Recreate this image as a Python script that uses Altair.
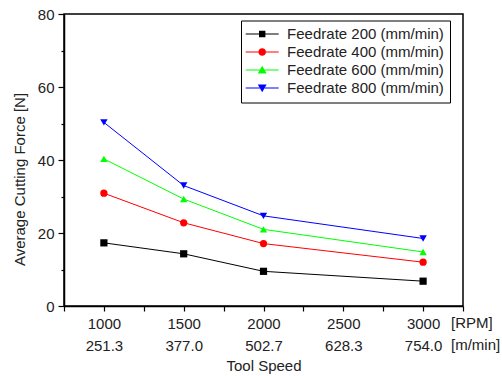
import altair as alt
import pandas as pd

# ---- data ----
rpm = [1000, 1500, 2000, 3000]
series = [
    "Feedrate 200 (mm/min)",
    "Feedrate 400 (mm/min)",
    "Feedrate 600 (mm/min)",
    "Feedrate 800 (mm/min)",
]
force_200 = [17.3, 14.3, 9.5, 6.8]
force_400 = [30.9, 22.8, 17.1, 12.0]
force_600 = [40.3, 29.3, 21.0, 14.8]
force_800 = [50.3, 33.0, 24.7, 18.5]

x_ticks = [750, 1000, 1250, 1500, 1750, 2000, 2250, 2500, 2750, 3000, 3250]
rpm_labels = [1000, 1500, 2000, 2500, 3000]
speed_labels = ["251.3", "377.0", "502.7", "628.3", "754.0"]
unit_labels = ["[RPM]", "[m/min]"]
y_ticks = [0, 10, 20, 30, 40, 50, 60, 70, 80]

# ---- styles ----
colors = ["#000000", "#ff0000", "#00ff00", "#0000ff"]
shapes = ["square", "circle", "triangle-up", "triangle-down"]
marker_sizes = [52, 55, 80, 80]
FONT = "Liberation Sans"
TXT = "#222222"


def legend_symbol(marker, inner):
    # thin bars on both sides of the marker form the legend line
    return (
        f"M-4.125,-0.125H-{inner}V0.125H-4.125Z "
        f"M{inner},-0.125H4.125V0.125H{inner}Z " + marker
    )


legend_paths = [
    legend_symbol("M-0.8,-0.8H0.8V0.8H-0.8Z", 0.8),
    legend_symbol("M-0.95,0A0.95,0.95 0 1,0 0.95,0A0.95,0.95 0 1,0 -0.95,0Z", 0.95),
    legend_symbol("M0,-1.05L1.1,0.85L-1.1,0.85Z", 0.6),
    legend_symbol("M0,1.05L1.1,-0.85L-1.1,-0.85Z", 0.6),
]

rows = []
for name, vals in zip(series, [force_200, force_400, force_600, force_800]):
    for r, v in zip(rpm, vals):
        rows.append({"rpm": r, "force": v, "series": name})
df = pd.DataFrame(rows)

label_expr = ""
for r, s in zip(rpm_labels, speed_labels):
    label_expr += f"datum.value == {r} ? ['{r}', '{s}'] : "
label_expr += "''"

W, H = 399, 292
TICK = 5
LPAD = 5
LINE_H = 22

x_enc = alt.X(
    "rpm:Q",
    scale=alt.Scale(domain=[750, 3250], nice=False, zero=False),
    axis=alt.Axis(
        values=x_ticks,
        labelExpr=label_expr,
        labelLineHeight=LINE_H,
        labelBaseline="top",
        labelAngle=0,
        labelOverlap=False,
        labelFlush=False,
        tickSize=TICK,
        labelPadding=LPAD,
        title="Tool Speed",
        titlePadding=5,
    ),
)
y_enc = alt.Y(
    "force:Q",
    scale=alt.Scale(domain=[0, 80], nice=False),
    axis=alt.Axis(
        values=y_ticks,
        labelExpr="datum.value % 20 == 0 ? datum.label : ''",
        labelOverlap=False,
        tickSize={"condition": {"test": "datum.value % 20 == 0", "value": 6}, "value": 3},
        labelPadding=4,
        title="Average Cutting Force [N]",
        titlePadding=10,
        titleY=165,
    ),
)

color_scale = alt.Scale(domain=series, range=colors)

lines = alt.Chart(df).mark_line(strokeWidth=1).encode(
    x=x_enc, y=y_enc,
    color=alt.Color("series:N", scale=color_scale, legend=None),
    detail="series:N",
)

points = alt.Chart(df).mark_point(filled=True, opacity=1).encode(
    x=x_enc, y=y_enc,
    color=alt.Color("series:N", scale=color_scale, legend=None),
    shape=alt.Shape("series:N", scale=alt.Scale(domain=series, range=shapes), legend=None),
    size=alt.Size("series:N", scale=alt.Scale(domain=series, range=marker_sizes), legend=None),
)

leg = alt.Legend(
    title=None,
    orient="none",
    legendX=177,
    legendY=6.5,
    padding=6,
    strokeColor="#000000",
    fillColor="#ffffff",
    symbolSize=64,
    symbolStrokeWidth=0,
    symbolOffset=7.7,
    labelOffset=17.4,
    labelFontSize=15,
    labelFont=FONT,
    labelColor=TXT,
    rowPadding=2,
)

legend_layer = (
    alt.Chart(df)
    .transform_filter("false")
    .mark_point(filled=True, opacity=1)
    .encode(
        x=x_enc, y=y_enc,
        color=alt.Color("series:N", scale=alt.Scale(domain=series, range=colors), legend=leg),
        shape=alt.Shape("series:N", scale=alt.Scale(domain=series, range=legend_paths), legend=leg),
    )
)

units = alt.Chart(pd.DataFrame({"k": [0]})).mark_text(
    align="left", baseline="top", fontSize=15, font=FONT, color=TXT, lineHeight=LINE_H
).encode(
    x=alt.value(W - 12),
    y=alt.value(H + TICK + LPAD),
    text=alt.value(unit_labels),
)

chart = (
    alt.layer(lines, points, legend_layer, units)
    .resolve_scale(color="independent", shape="independent", size="independent")
    .properties(
        width=W,
        height=H,
        autosize=alt.AutoSizeParams(type="none"),
        padding={"left": 64, "top": 14, "right": 39, "bottom": 70},
    )
    .configure(font=FONT)
    .configure_view(stroke="#000000", strokeWidth=1.5)
    .configure_axis(
        grid=False,
        domainColor="#000000",
        domainWidth=1.5,
        tickColor="#000000",
        tickWidth=1.2,
        labelFont=FONT,
        labelFontSize=15,
        labelColor=TXT,
        titleFont=FONT,
        titleFontSize=15,
        titleFontWeight="normal",
        titleColor=TXT,
    )
)

chart.save("out.html", embed_options={"renderer": "svg", "actions": False})
